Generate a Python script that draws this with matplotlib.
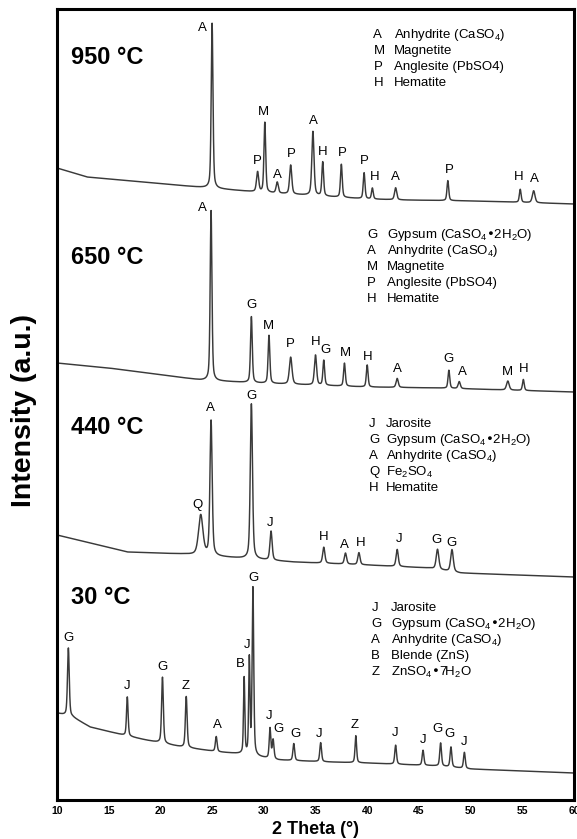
import matplotlib.pyplot as plt
import numpy as np

plt.rcParams['font.family'] = ['Liberation Sans', 'DejaVu Sans']
plt.rcParams['mathtext.default'] = 'regular'

# XRD patterns of the residue after roasting at four temperatures
temps = ["950 °C", "650 °C", "440 °C", "30 °C"]

# background anchors (2theta, a.u.)
bg_950_x = [10.0, 12.9, 23.6, 29.3, 40.0, 43.6, 50.7, 60.0]
bg_950_y = [42, 33, 23, 18, 11, 10, 9, 6]
bg_650_x = [10.0, 15.0, 23.9, 29.3, 40.0, 47.0, 60.0]
bg_650_y = [37, 32, 20, 17, 13, 12, 8]
bg_440_x = [10.0, 16.8, 22.1, 32.9, 40.0, 46.0, 49.0, 60.0]
bg_440_y = [50, 33, 31, 23, 20, 17, 12, 8]
bg_30_x = [10.0, 11.5, 13.2, 16.4, 18.6, 22.1, 25.7, 27.9, 29.6, 31.4, 36.4, 40.0, 47.1, 50.0, 60.0]
bg_30_y = [67, 63, 53, 45, 40, 33, 28, 26, 23, 20, 18, 17, 14, 11, 7]

# peaks: position (2theta), net height (a.u.), FWHM (deg), phase
pk_950_pos = [25.0, 29.4, 30.1, 31.3, 32.6, 34.75, 35.7, 37.5, 39.7, 40.5, 42.75, 47.8, 54.8, 56.1]
pk_950_hgt = [165, 20, 70, 11, 29, 64, 34, 33, 26, 11, 12, 20, 13, 12]
pk_950_fw = [0.2, 0.25, 0.2, 0.25, 0.25, 0.25, 0.2, 0.2, 0.2, 0.2, 0.25, 0.2, 0.2, 0.3]
pk_950_lbl = list("APMAPAHPPHAPHA")

pk_650_pos = [24.9, 28.8, 30.5, 32.6, 35.0, 35.8, 37.8, 40.0, 42.9, 47.9, 48.9, 53.6, 55.1]
pk_650_hgt = [170, 66, 48, 27, 30, 25, 23, 22, 9, 18, 7, 9, 11]
pk_650_fw = [0.2, 0.2, 0.2, 0.3, 0.25, 0.2, 0.2, 0.2, 0.25, 0.2, 0.25, 0.3, 0.2]
pk_650_lbl = list("AGMPHGMHAGAMH")

pk_440_pos = [23.9, 24.9, 28.8, 30.7, 35.8, 37.9, 39.2, 42.9, 46.8, 48.2]
pk_440_hgt = [40, 135, 155, 29, 16, 11, 12, 17, 20, 22]
pk_440_fw = [0.5, 0.25, 0.25, 0.25, 0.25, 0.25, 0.25, 0.25, 0.3, 0.3]
pk_440_lbl = list("QAGJHAHJGG")

pk_30_pos = [11.1, 16.8, 20.2, 22.5, 25.4, 28.1, 28.6, 28.95, 30.6, 30.9, 32.9, 35.5,
             38.9, 42.75, 45.4, 47.1, 48.1, 49.4]
pk_30_hgt = [68, 39, 66, 51, 15, 76, 95, 167, 30, 19, 17, 19, 27, 19, 15, 23, 20, 16]
pk_30_fw = [0.2, 0.18, 0.2, 0.2, 0.2, 0.15, 0.15, 0.18, 0.18, 0.2, 0.2, 0.2,
            0.18, 0.2, 0.2, 0.2, 0.2, 0.2]
pk_30_lbl = list("GJGZABJGJGGJZJJGGJ")

leg_950 = [("A", "Anhydrite (CaSO$_4$)"), ("M", "Magnetite"),
           ("P", "Anglesite (PbSO4)"), ("H", "Hematite")]
leg_650 = [("G", "Gypsum (CaSO$_4$•2H$_2$O)"), ("A", "Anhydrite (CaSO$_4$)"),
           ("M", "Magnetite"), ("P", "Anglesite (PbSO4)"), ("H", "Hematite")]
leg_440 = [("J", "Jarosite"), ("G", "Gypsum (CaSO$_4$•2H$_2$O)"),
           ("A", "Anhydrite (CaSO$_4$)"), ("Q", "Fe$_2$SO$_4$"), ("H", "Hematite")]
leg_30 = [("J", "Jarosite"), ("G", "Gypsum (CaSO$_4$•2H$_2$O)"),
          ("A", "Anhydrite (CaSO$_4$)"), ("B", "Blende (ZnS)"), ("Z", "ZnSO$_4$•7H$_2$O")]

# layout: vertical stacking and label nudges (pixels)
offsets = [590, 400, 215, 20]
temp_y = [742, 542, 372, 203]
leg_top = [765, 565, 376, 192]
leg_x = [(40.6, 42.6), (40.0, 41.9), (40.2, 41.8), (40.4, 42.3)]
nudge_950 = [(-10, -5), (0, 10), (-1, 10), (0, 7), (1, 11), (0, 10), (0, 10), (1, 11),
             (0, 12), (2, 11), (0, 11), (1, 11), (-2, 12), (1, 12)]
nudge_650 = [(-9, 3), (0, 12), (-1, 9), (0, 13), (0, 13), (2, 10), (1, 10), (0, 8),
             (0, 9), (0, 11), (3, 9), (0, 9), (0, 10)]
nudge_440 = [(-3, 9), (-1, 12), (0, 8), (-1, 8), (0, 10), (-1, 8), (2, 10), (2, 10),
             (-1, 9), (0, 7)]
nudge_30 = [(0, 10), (0, 11), (0, 10), (-1, 10), (1, 11), (-4, 13), (-2, 10), (1, 9),
            (-1, 11), (5, 10), (2, 9), (-2, 9), (-1, 11), (0, 12), (0, 10), (-3, 14),
            (-1, 13), (0, 10)]

patterns = [
    (bg_950_x, bg_950_y, pk_950_pos, pk_950_hgt, pk_950_fw, pk_950_lbl, leg_950, nudge_950),
    (bg_650_x, bg_650_y, pk_650_pos, pk_650_hgt, pk_650_fw, pk_650_lbl, leg_650, nudge_650),
    (bg_440_x, bg_440_y, pk_440_pos, pk_440_hgt, pk_440_fw, pk_440_lbl, leg_440, nudge_440),
    (bg_30_x, bg_30_y, pk_30_pos, pk_30_hgt, pk_30_fw, pk_30_lbl, leg_30, nudge_30),
]


def pseudo_voigt(x, c, h, w, eta=0.45):
    lor = 1.0 / (1.0 + ((x - c) / (w / 2)) ** 2)
    gau = np.exp(-4 * np.log(2) * ((x - c) / w) ** 2)
    return h * (eta * lor + (1 - eta) * gau)


def pattern(x, bgx, bgy, pos, hgt, fw):
    y = np.interp(x, bgx, bgy).astype(float)
    for c, h, w in zip(pos, hgt, fw):
        y += pseudo_voigt(x, c, h, w)
    return y


tt = np.linspace(10, 60, 5001)

fig = plt.figure(figsize=(5.77, 8.39), dpi=100)
ax = fig.add_axes([57 / 577, 39 / 839, 517 / 577, 791 / 839])

for i, (bgx, bgy, pos, hgt, fw, lbl, leg, nudge) in enumerate(patterns):
    off = offsets[i]
    y = pattern(tt, bgx, bgy, pos, hgt, fw) + off
    ax.plot(tt, y, color="#3a3a3a", lw=1.05)
    tops = pattern(np.array(pos), bgx, bgy, pos, hgt, fw) + off
    for c, t, s, (dx, dy) in zip(pos, tops, lbl, nudge):
        ax.annotate(s, xy=(c, t), xytext=(dx, dy), textcoords="offset pixels",
                    ha="center", va="center", fontsize=9.5, color="black")
    ax.text(11.4, temp_y[i], temps[i], fontsize=17, fontweight="bold",
            ha="left", va="center")
    lx, nx = leg_x[i]
    for k, (s, name) in enumerate(leg):
        yy = leg_top[i] - 16 * k
        ax.text(lx, yy, s, fontsize=9.5, ha="left", va="center")
        ax.text(nx, yy, name, fontsize=9.5, ha="left", va="center")

ax.set_xlim(10, 60)
ax.set_ylim(0, 791)
ax.set_yticks([])
ax.set_xticks(np.arange(10, 61, 5))
ax.tick_params(axis="x", length=0, pad=4, labelsize=7.5)
for t in ax.get_xticklabels():
    t.set_fontweight("bold")
for sp in ax.spines.values():
    sp.set_linewidth(2.2)

ax.set_xlabel("2 Theta (°)", fontsize=13, fontweight="bold")
ax.xaxis.set_label_coords(0.5, -0.027)
fig.text(24 / 577, 1 - 410 / 839, "Intensity (a.u.)", rotation=90, fontsize=20.5,
         fontweight="bold", ha="center", va="center")

fig.savefig("out.png", dpi=100)
